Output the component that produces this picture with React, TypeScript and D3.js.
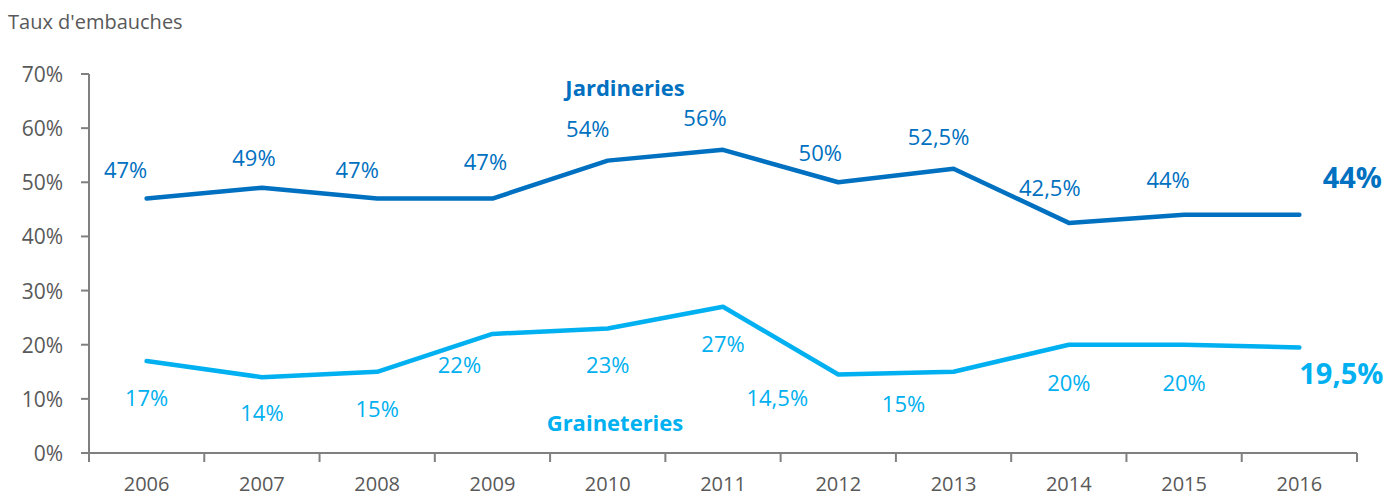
import React from "react";
import * as d3 from "d3";

const years = ["2006","2007","2008","2009","2010","2011","2012","2013","2014","2015","2016"];
const jardineries = [47, 49, 47, 47, 54, 56, 50, 52.5, 42.5, 44, 44];
const graineteries = [17, 14, 15, 22, 23, 27, 14.5, 15, 20, 20, 19.5];
const jardLabels = ["47%","49%","47%","47%","54%","56%","50%","52,5%","42,5%","44%","44%"];
const grainLabels = ["17%","14%","15%","22%","23%","27%","14,5%","15%","20%","20%","19,5%"];
const yTicks = [0, 10, 20, 30, 40, 50, 60, 70];
const yTickLabels = ["0%","10%","20%","30%","40%","50%","60%","70%"];

// label offsets (layout, px relative to point)
const jardOff: [number, number][] = [[-21,-30],[-8,-31],[-20,-30],[-7,-38],[-20,-33],[-18,-33],[-18,-30],[-15,-33],[-19,-36],[-16,-36],[53,-38]];
const grainOff: [number, number][] = [[0,36],[0,35],[0,36],[-33,30],[0,36],[0,36],[-61,23],[-50,31],[0,37],[0,37],[42,25]];

const DARK = "#0070C0";
const LIGHT = "#00B0F0";
const GRAY = "#595959";
const AXIS = "#808080";
const FONT = "Open Sans, sans-serif";

export default function App() {
  const W = 1389, H = 497;
  const x0 = 89, x1 = 1357, yTop = 74, yBot = 453;
  const x = d3.scaleBand<string>().domain(years).range([x0, x1]);
  const y = d3.scaleLinear().domain([0, 70]).range([yBot, yTop]);
  const cx = (i: number) => (x(years[i]) as number) + x.bandwidth() / 2;
  const line = d3.line<number>().x((_, i) => cx(i)).y((d) => y(d));
  const boundaries = years.map((yr) => x(yr) as number).concat([x1]);
  const last = years.length - 1;

  return (
    <svg width={W} height={H} style={{ position: "absolute", left: 0, top: 0, background: "#fff" }} fontFamily={FONT}>
      <text x={8} y={29} fontSize={20} fill={GRAY}>Taux d'embauches</text>
      {/* y axis */}
      <line x1={x0} x2={x0} y1={yTop} y2={yBot} stroke={AXIS} strokeWidth={2} />
      {yTicks.map((t, i) => (
        <g key={t}>
          <line x1={x0 - 8} x2={x0} y1={y(t)} y2={y(t)} stroke={AXIS} strokeWidth={2} />
          <text x={63} y={y(t)} textAnchor="end" dominantBaseline="central" fontSize={21} fill={GRAY}>{yTickLabels[i]}</text>
        </g>
      ))}
      {/* x axis */}
      <line x1={x0} x2={x1} y1={yBot} y2={yBot} stroke={AXIS} strokeWidth={2} />
      {boundaries.map((b, i) => (
        <line key={i} x1={b} x2={b} y1={yBot} y2={yBot + 9} stroke={AXIS} strokeWidth={2} />
      ))}
      {years.map((yr, i) => (
        <text key={yr} x={cx(i)} y={483} textAnchor="middle" dominantBaseline="central" fontSize={20} fill={GRAY}>{yr}</text>
      ))}
      {/* lines */}
      <path d={line(jardineries) || ""} fill="none" stroke={DARK} strokeWidth={4.5} strokeLinecap="round" strokeLinejoin="round" />
      <path d={line(graineteries) || ""} fill="none" stroke={LIGHT} strokeWidth={4.5} strokeLinecap="round" strokeLinejoin="round" />
      {/* labels */}
      {jardineries.map((v, i) => (
        <text key={"j" + i} x={cx(i) + jardOff[i][0]} y={y(v) + jardOff[i][1]} textAnchor="middle" dominantBaseline="central"
          fontSize={i === last ? 29 : 22} fontWeight={i === last ? 700 : 400} fill={DARK}>{jardLabels[i]}</text>
      ))}
      {graineteries.map((v, i) => (
        <text key={"g" + i} x={cx(i) + grainOff[i][0]} y={y(v) + grainOff[i][1]} textAnchor="middle" dominantBaseline="central"
          fontSize={i === last ? 29 : 22} fontWeight={i === last ? 700 : 400} fill={LIGHT}>{grainLabels[i]}</text>
      ))}
      <text x={625} y={87} textAnchor="middle" dominantBaseline="central" fontSize={22} fontWeight={700} fill={DARK}>Jardineries</text>
      <text x={615} y={422} textAnchor="middle" dominantBaseline="central" fontSize={22} fontWeight={700} fill={LIGHT}>Graineteries</text>
    </svg>
  );
}
